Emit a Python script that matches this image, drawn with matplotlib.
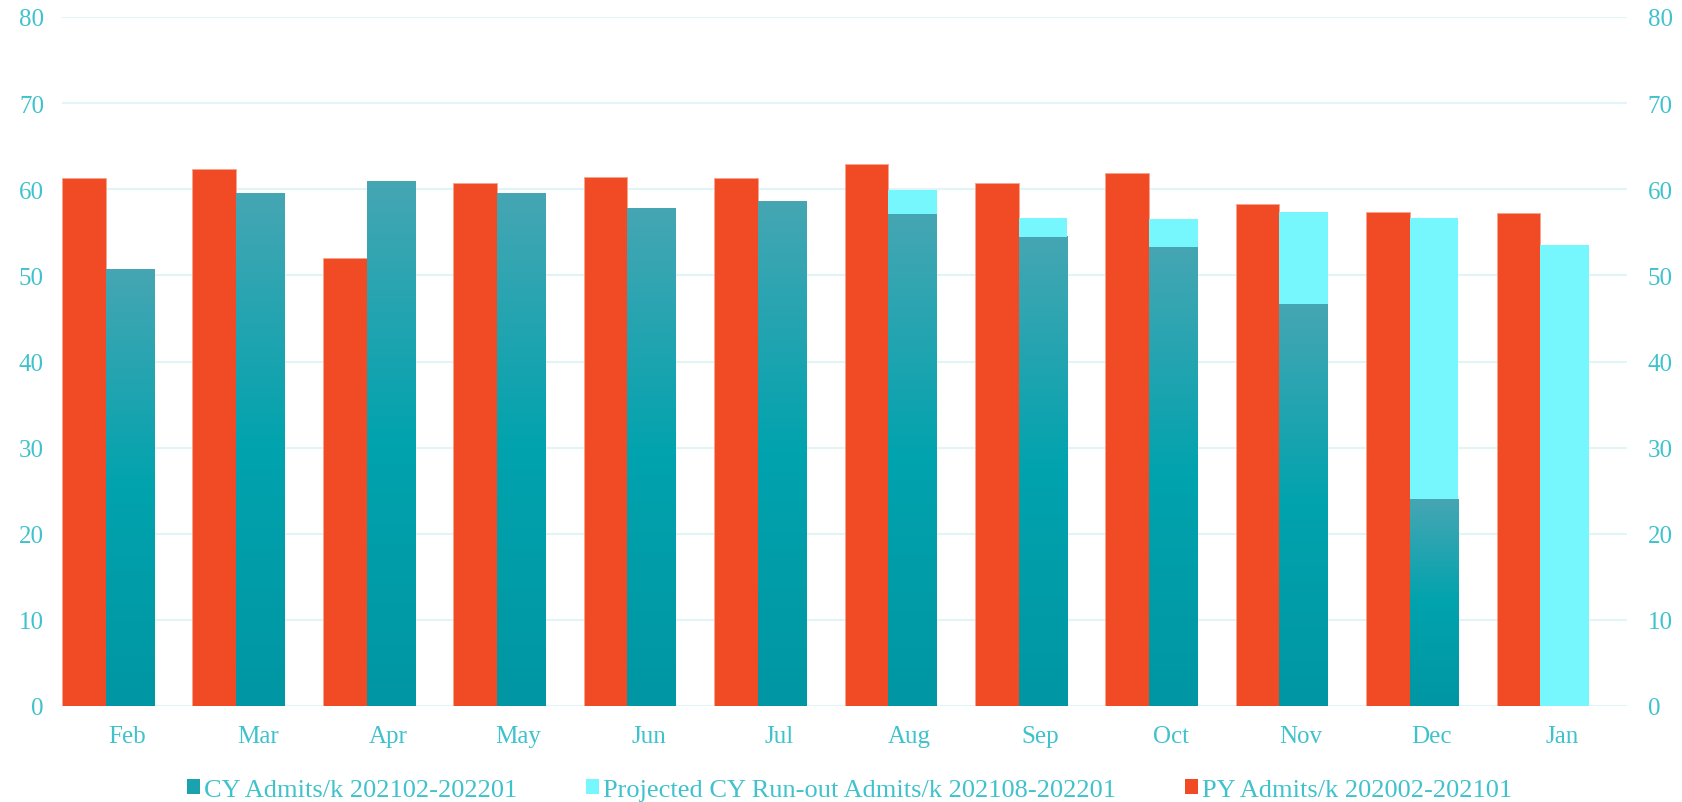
import numpy as np
import matplotlib
matplotlib.use("Agg")
import matplotlib.pyplot as plt
from matplotlib.colors import LinearSegmentedColormap
from matplotlib.patches import Patch

plt.rcParams['font.family'] = ['Liberation Serif', 'DejaVu Serif']

months = ["Feb", "Mar", "Apr", "May", "Jun", "Jul", "Aug", "Sep", "Oct", "Nov", "Dec", "Jan"]
py_admits = [61.3, 62.35, 52.0, 60.7, 61.45, 61.25, 62.95, 60.7, 61.9, 58.3, 57.4, 57.3]
cy_admits = [50.7, 59.45, 60.85, 59.55, 57.8, 58.6, 57.1, 54.5, 53.3, 46.7, 24.0, np.nan]
proj_runout = [0, 0, 0, 0, 0, 0, 2.8, 2.2, 3.3, 10.7, 32.7, 53.5]
yticks = [0, 10, 20, 30, 40, 50, 60, 70, 80]
legend_labels = ["CY Admits/k 202102-202201",
                 "Projected CY Run-out Admits/k 202108-202201",
                 "PY Admits/k 202002-202101"]

RED = "#F04B24"
CYAN = "#76F6FD"
TEAL = "#1AA3AE"
TXT = "#40C2CC"
GRID = "#E1F5F7"

W, H = 1682, 803
fig = plt.figure(figsize=(W / 100, H / 100), dpi=100)
ax = fig.add_axes([62 / W, 96 / H, 1565 / W, 689 / H])

x = np.arange(len(months))
w_py = 0.335
w_cy = 0.372

ax.bar(x - 0.5, py_admits, width=w_py, align='edge', color=RED,
       edgecolor="#F6A48E", linewidth=0.6, zorder=3)

cy_vals = np.nan_to_num(np.array(cy_admits, dtype=float))
cy_bars = ax.bar(x - 0.5 + w_py, cy_vals, width=w_cy, align='edge',
                 color='none', linewidth=0, zorder=3)

cmap = LinearSegmentedColormap.from_list(
    "cyg", [(0.0, "#0096A3"), (0.5, "#00A3AE"), (1.0, "#46A6B3")])
grad = np.linspace(0, 1, 256).reshape(-1, 1)
for r in cy_bars:
    h = r.get_height()
    if h > 0:
        x0 = r.get_x()
        ax.imshow(grad, extent=[x0, x0 + r.get_width(), 0, h], origin='lower',
                  cmap=cmap, aspect='auto', zorder=3, interpolation='bicubic')

ax.bar(x - 0.5 + w_py, proj_runout, bottom=cy_vals, width=w_cy, align='edge',
       color=CYAN, linewidth=0, zorder=3)

ax.set_xlim(-0.5, len(months) - 0.5)
ax.set_ylim(0, 80)
ax.set_yticks(yticks)
ax.set_xticks(x, months)
ax.yaxis.grid(True, color=GRID, linewidth=1.5, zorder=0)
ax.set_axisbelow(True)
for s in ax.spines.values():
    s.set_visible(False)
ax.tick_params(axis='both', length=0, labelsize=18, labelcolor=TXT)
ax.tick_params(axis='y', pad=13)
ax.tick_params(axis='x', pad=14)

ax2 = ax.twinx()
ax2.set_ylim(0, 80)
ax2.set_yticks(yticks)
for s in ax2.spines.values():
    s.set_visible(False)
ax2.tick_params(axis='y', length=0, labelsize=18, labelcolor=TXT, pad=15)

handles = [Patch(facecolor=TEAL), Patch(facecolor=CYAN), Patch(facecolor=RED)]
fig.legend(handles, legend_labels, loc='center', bbox_to_anchor=(0.505, 1 - 791 / H),
           ncol=3, frameon=False, fontsize=19, handlelength=0.5, handleheight=0.5,
           handletextpad=0.15, columnspacing=2.6, labelcolor=TXT)

fig.savefig("out.png", dpi=100)
